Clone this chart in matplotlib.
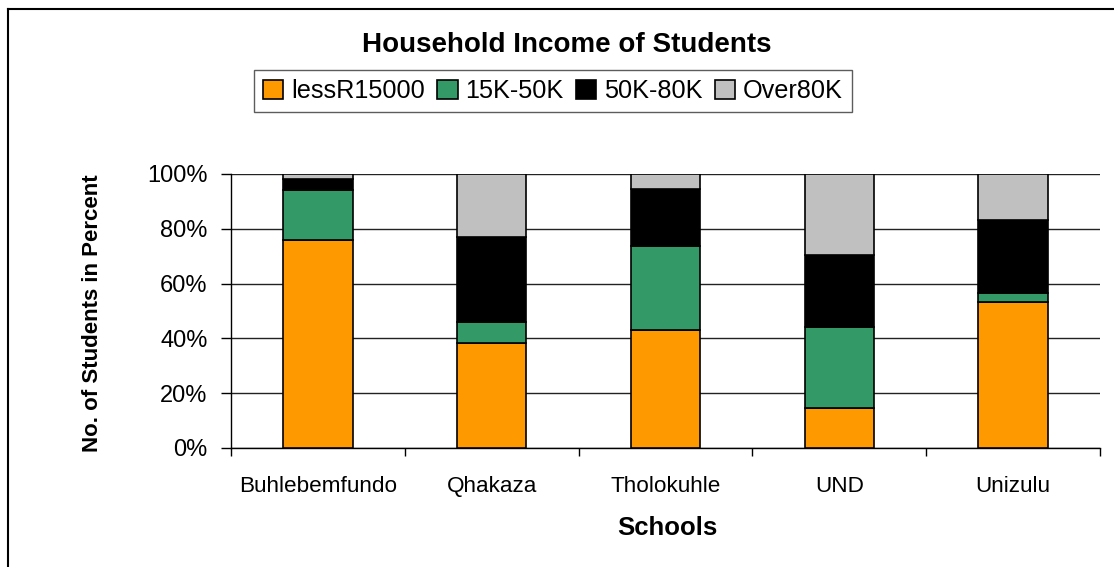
import numpy as np
import matplotlib.pyplot as plt
from matplotlib.lines import Line2D

schools = ["Buhlebemfundo", "Qhakaza", "Tholokuhle", "UND", "Unizulu"]
series = ["lessR15000", "15K-50K", "50K-80K", "Over80K"]
colors = ["#FF9900", "#339966", "#000000", "#C0C0C0"]

less_r15000 = [76.0, 38.5, 43.0, 14.7, 53.3]
k15_50 = [18.3, 7.5, 30.6, 29.4, 3.1]
k50_80 = [3.9, 30.9, 20.8, 26.3, 26.9]
over_80k = [1.8, 23.1, 5.6, 29.6, 16.7]

plt.rcParams['font.family'] = ['Liberation Sans', 'DejaVu Sans']

W, H = 1114, 567
fig = plt.figure(figsize=(W / 100, H / 100), dpi=100)

# chart frame: only the top and left edges fall inside the image
fx, fy = 7.5 / W, 1 - 8.5 / H
fig.add_artist(Line2D([fx, 1.0], [fy, fy], transform=fig.transFigure,
                      color="black", linewidth=1.5))
fig.add_artist(Line2D([fx, fx], [0.0, fy], transform=fig.transFigure,
                      color="black", linewidth=1.5))

ax = fig.add_axes([231 / W, 1 - 448 / H, (1100 - 231) / W, (448 - 174) / H])

x = np.arange(len(schools))
bottom = np.zeros(len(schools))
for name, vals, col in zip(series, [less_r15000, k15_50, k50_80, over_80k], colors):
    ax.bar(x, vals, width=0.40, bottom=bottom, color=col, edgecolor="black",
           linewidth=1.2, label=name, zorder=3)
    bottom += np.array(vals)

ax.set_xlim(-0.5, len(schools) - 0.5)
ax.set_ylim(0, 100)
ax.set_yticks(np.arange(0, 101, 20))
ax.set_yticklabels([f"{v}%" for v in range(0, 101, 20)], fontsize=17)
ax.set_xticks(x)
ax.set_xticklabels(schools, fontsize=16.2)
ax.tick_params(axis="x", length=0, pad=20)
ax.tick_params(axis="y", length=7, width=1, direction="out", pad=10)
# separators between categories below the axis
ax.set_xticks(np.arange(-0.5, len(schools), 1.0), minor=True)
ax.tick_params(axis="x", which="minor", length=6, width=1, direction="out")

ax.grid(axis="y", color="#222222", linewidth=1.0, zorder=0)
for side in ["top", "right"]:
    ax.spines[side].set_visible(False)
for side in ["left", "bottom"]:
    ax.spines[side].set_color("black")
    ax.spines[side].set_linewidth(1.0)

fig.text(93 / W, 1 - 313 / H, "No. of Students in Percent", rotation=90,
         ha="center", va="center", fontsize=16, fontweight="bold")
fig.text(667 / W, 1 - 528 / H, "Schools", ha="center", va="center",
         fontsize=18.5, fontweight="bold")
fig.text(567 / W, 1 - 45 / H, "Household Income of Students", ha="center",
         va="center", fontsize=20, fontweight="bold")

leg = fig.legend(loc="center", bbox_to_anchor=(553 / W, 1 - 91 / H), ncol=4,
                 fontsize=18.2, frameon=True, fancybox=False, edgecolor="#333333",
                 handlelength=0.8, handleheight=0.8, handletextpad=0.3,
                 columnspacing=0.5, borderpad=0.35, borderaxespad=0)
leg.get_frame().set_linewidth(1.0)

fig.savefig("out.png", dpi=100)
